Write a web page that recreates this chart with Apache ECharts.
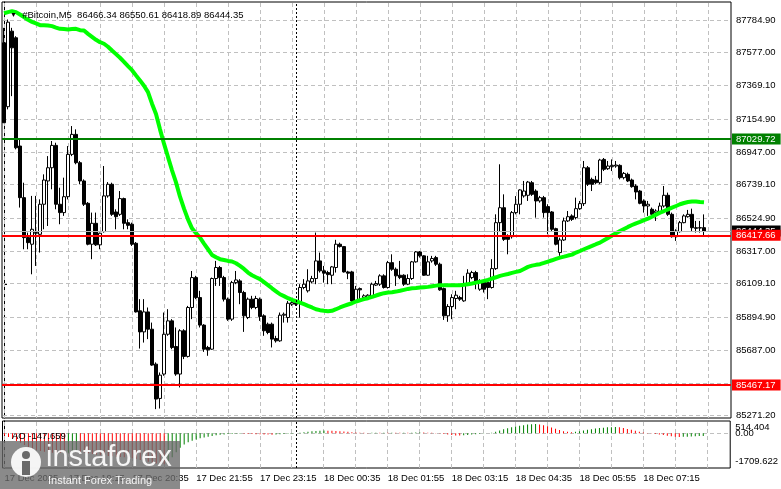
<!DOCTYPE html>
<html><head><meta charset="utf-8">
<script src="https://cdn.jsdelivr.net/npm/echarts@6/dist/echarts.min.js"></script>
<style>html,body{margin:0;padding:0;background:#fff}#c{width:781px;height:489px}</style>
</head><body><div id="c"></div>
<script>
// ---------------- data ----------------
const symbolName = '#Bitcoin,M5';
const xTickBars = [0, 16, 32, 48, 64, 80, 96, 112, 128, 144, 160];
const xTickText = ['17 Dec 2025', '17 Dec 19:15', '17 Dec 20:35', '17 Dec 21:55', '17 Dec 23:15',
  '18 Dec 00:35', '18 Dec 01:55', '18 Dec 03:15', '18 Dec 04:35', '18 Dec 05:55', '18 Dec 07:15'];
const xGridBars = [0,8,16,24,32,40,48,56,64,72,80,88,96,104,112,120,128,136,144,152,160,168,176];
const daySeparatorBar = 73;
const yTicks = [87784.90, 87577.00, 87369.10, 87154.90, 86947.00, 86739.10, 86524.90, 86317.00,
  86109.10, 85894.90, 85687.00, 85479.10, 85271.20];
const aoTicksOuter = [514.404, -1709.622];
const aoTicksOuterText = ['514.404', '-1709.622'];
const aoTickZero = [0];
const aoTickZeroText = ['0.00'];
const levelGreen = 87029.72;
const levelRedHigh = 86417.66;
const levelRedLow = 85467.17;

const barOpen = [
 87641,87235,87715,87673,86985,86657,86403,86361,86435,86424,
 86615,86763,86847,86989,86615,86562,86663,86932,87059,86879,
 86763,86621,86361,86494,86357,86441,86668,86742,86566,86551,
 86651,86498,86488,86367,85938,85804,85931,85821,85599,85381,
 85536,85789,85874,85711,85536,85811,85648,85959,86149,86022,
 85847,85705,85694,86143,86213,86149,86012,85885,86117,86128,
 86054,85895,86012,85959,86012,85906,85853,85853,85762,85747,
 85910,85895,85980,85990,85986,86086,86065,86122,86143,86255,
 86192,86181,86164,86213,86361,86346,86185,86185,86001,86079,
 86022,86022,86022,86101,86107,86160,86086,86244,86202,86164,
 86164,86107,86143,86249,86312,86287,86164,86255,86276,86234,
 86079,85906,85965,86016,86022,86001,86107,86149,86181,86075,
 86122,86117,86086,86206,86498,86593,86409,86409,86562,86615,
 86668,86672,86752,86699,86636,86657,86600,86566,86460,86308,
 86388,86509,86541,86530,86587,86619,86847,86773,86769,86752,
 86900,86841,86854,86858,86862,86784,86805,86769,86731,86699,
 86636,86604,86583,86562,86562,86604,86672,86551,86409,86441,
 86498,86536,86551,86466,86466,86466.34];
const barHigh = [
 87736,87789,87736,87683,87027,86752,86435,86668,86668,86646,
 86805,86921,87017,87006,86720,86784,86985,87112,87091,86890,
 86773,86629,86562,86562,86435,86858,86756,86752,86583,86699,
 86657,86519,86498,86375,86012,86012,85959,85863,85610,85546,
 85927,85948,85885,85832,85821,85821,85969,86191,86160,86065,
 85853,85715,86149,86255,86223,86160,86022,86128,86191,86139,
 86065,86022,86033,86033,86022,85916,85863,85863,85779,85927,
 85927,86001,86001,86001,86107,86139,86202,86160,86435,86308,
 86223,86192,86223,86389,86371,86350,86192,86192,86096,86086,
 86043,86043,86117,86128,86170,86170,86255,86297,86213,86255,
 86170,86170,86255,86318,86318,86291,86287,86287,86287,86244,
 86086,85980,86043,86065,86033,86160,86202,86192,86192,86139,
 86128,86122,86266,86551,86869,86678,86424,86572,86667,86710,
 86763,86763,86763,86710,86668,86668,86615,86572,86466,86403,
 86530,86572,86551,86657,86636,86890,86858,86784,86795,86904,
 86909,86890,86900,86890,86869,86820,86816,86778,86742,86706,
 86646,86636,86594,86583,86625,86731,86689,86562,86456,86509,
 86551,86579,86587,86509,86509,86550.61];
const barLow = [
 87133,87218,87302,86964,86594,86329,86329,86170,86223,86308,
 86456,86477,86710,86583,86488,86541,86646,86921,86869,86742,
 86604,86354,86266,86350,86329,86435,86657,86541,86456,86541,
 86456,86456,86350,85927,85698,85736,85758,85588,85313,85317,
 85525,85779,85694,85525,85451,85631,85641,85885,86012,85832,
 85677,85652,85690,86096,86096,85997,85874,85874,86107,85980,
 85804,85885,85948,85948,85874,85779,85789,85705,85736,85741,
 85863,85863,85969,85969,85895,86075,86054,86113,86107,86181,
 86117,86107,86107,86181,86340,86181,86139,85995,85995,86012,
 86012,86012,86016,86096,86096,86079,86079,86192,86096,86139,
 86096,86101,86134,86244,86276,86160,86160,86244,86223,86065,
 85880,85868,85885,85948,86001,85995,86096,86139,86075,86065,
 86054,86012,86079,86198,86445,86382,86297,86397,86551,86551,
 86657,86636,86668,86530,86625,86530,86424,86445,86354,86287,
 86382,86502,86509,86519,86579,86604,86731,86699,86742,86742,
 86826,86833,86826,86847,86773,86773,86756,86720,86646,86615,
 86562,86541,86541,86509,86551,86594,86541,86403,86382,86435,
 86494,86530,86439,86435,86435,86418.89];
const barClose = [
 87133,87772,87609,86974,86657,86403,86371,86456,86431,86615,
 86769,86847,86989,86615,86562,86663,86932,87059,86879,86763,
 86615,86361,86494,86357,86431,86668,86742,86551,86536,86651,
 86494,86481,86361,85931,85804,85931,85821,85593,85377,85529,
 85789,85874,85705,85536,85811,85648,85959,86149,86022,85847,
 85694,85690,86143,86213,86149,86012,85885,86117,86134,86054,
 85906,86012,85959,86016,85902,85811,85800,85758,85747,85910,
 85916,85986,85990,85980,86086,86107,86128,86143,86255,86192,
 86177,86168,86217,86361,86346,86185,86177,86001,86075,86071,
 86033,86037,86107,86111,86160,86086,86244,86202,86160,86149,
 86107,86143,86249,86312,86287,86164,86249,86270,86234,86071,
 85906,85965,86022,86037,86012,86107,86177,86181,86117,86128,
 86075,86086,86206,86498,86593,86392,86392,86562,86615,86706,
 86699,86756,86678,86636,86657,86562,86562,86456,86361,86388,
 86509,86536,86519,86587,86619,86847,86742,86742,86752,86896,
 86837,86858,86862,86864,86784,86811,86763,86727,86693,86621,
 86604,86615,86551,86572,86604,86672,86551,86409,86445,86498,
 86541,86551,86466,86462,86464,86444.35];
const maValues = [
 87829,87836,87842,87836,87821,87804,87787,87774,87764,87753,
 87753,87751,87747,87738,87730,87728,87726,87728,87730,87721,
 87719,87698,87679,87660,87645,87635,87616,87592,87569,87546,
 87520,87493,87467,87434,87402,87368,87328,87254,87188,87091,
 87000,86915,86831,86754,86663,86587,86519,86462,86431,86403,
 86365,86329,86293,86278,86266,86261,86255,86251,86240,86223,
 86204,86181,86164,86151,86139,86120,86101,86081,86062,86043,
 86031,86018,86007,85999,85990,85980,85969,85959,85948,85942,
 85938,85935,85938,85948,85959,85969,85978,85986,85997,86005,
 86012,86018,86026,86035,86043,86050,86054,86056,86060,86065,
 86071,86077,86081,86083,86086,86088,86090,86094,86098,86101,
 86101,86101,86101,86101,86101,86103,86107,86111,86117,86122,
 86128,86134,86143,86151,86160,86166,86172,86179,86185,86191,
 86204,86217,86225,86230,86234,86242,86251,86259,86268,86276,
 86282,86289,86295,86308,86318,86329,86340,86350,86361,86371,
 86386,86401,86416,86431,86445,86458,86471,86483,86494,86503,
 86514,86524,86536,86549,86562,86572,86583,86594,86604,86615,
 86623,86629,86632,86632,86629,86627];
const aoValues = [
 -120,-200,-300,-420,-520,-650,-760,-850,-920,-980,
 -1020,-1050,-1070,-1085,-1095,-1100,-1080,-1040,-1010,-1030,
 -1060,-1100,-1140,-1180,-1210,-1230,-1250,-1270,-1290,-1310,
 -1330,-1350,-1380,-1420,-1470,-1520,-1570,-1620,-1670,-1695,
 -1709.622,-1550,-1330,-1050,-800,-620,-500,-410,-340,-280,
 -230,-185,-145,-110,-80,-60,-45,-35,-25,-20,
 -30,-40,-45,-50,-55,-60,-70,-75,-70,-55,
 -40,-30,-20,0,30,60,90,110,130,140,
 150,145,135,125,115,100,80,60,40,30,
 25,20,25,30,28,35,30,35,30,25,
 30,25,30,40,45,40,35,30,20,-10,
 -40,-70,-100,-120,-125,-110,-90,-70,-50,-30,
 -10,0,30,80,150,220,280,330,380,420,
 450,480,500,514.404,490,450,390,320,250,180,
 120,80,60,80,110,150,190,230,260,290,
 310,330,340,345,330,290,240,190,140,90,
 50,20,-10,-40,-70,-100,-130,-160,-185,-200,
 -195,-185,-175,-165,-155,-147.659];

// ---------------- layout / style ----------------
const FONT = '"Liberation Sans", Arial, sans-serif';
const FS = 9.5;
const PRICE_MIN = 85256.7, PRICE_MAX = 87900.3;
const AO_MIN = -1919, AO_MAX = 680;
const X_MIN = -0.5, X_MAX = 181.75;
const GRID_FILL = '#c0c0c0';
const DASH_ON = 4, DASH_OFF = 3;

const last = barClose.length - 1;
const candleData = barOpen.map((o, i) => [i, o, barClose[i], barLow[i], barHigh[i]]);
const maData = maValues.map((v, i) => [i, v]);
const aoData = aoValues.map((v, i) => [i, v]);
const noLabel = { show: false };

const priceLabel = (bg) => ({
  show: true, position: 'end', distance: 1, formatter: p => p.value.toFixed(2),
  color: '#fff', backgroundColor: bg, fontSize: FS, fontFamily: FONT,
  padding: [1, 5, 0, 4], lineHeight: 10
});
const aoLabelBase = () => ({ margin: 5, fontSize: FS, color: '#000', fontFamily: FONT, hideOverlap: false });

const logoElements = [
  { type: 'rect', z: 100, shape: { x: 0, y: 441, width: 180, height: 48 },
    style: { fill: 'rgba(105,105,105,0.78)' } },
  { type: 'circle', z: 101, shape: { cx: 26, cy: 462, r: 15 }, style: { fill: 'rgba(255,255,255,0.92)' } },
  { type: 'circle', z: 102, shape: { cx: 26, cy: 455, r: 4 }, style: { fill: 'rgba(105,105,105,1)' } },
  { type: 'rect', z: 102, shape: { x: 22, y: 461, width: 8, height: 14 }, style: { fill: 'rgba(105,105,105,1)' } },
  { type: 'text', z: 101, style: { text: 'instaforex', x: 46, y: 458, fontSize: 29, fontFamily: FONT,
    fill: 'rgba(255,255,255,0.92)', verticalAlign: 'middle', align: 'left' } },
  { type: 'text', z: 101, style: { text: 'Instant Forex Trading', x: 48, y: 481, fontSize: 11, fontFamily: FONT,
    fill: 'rgba(255,255,255,0.92)', verticalAlign: 'middle', align: 'left' } }
];

const option = {
  animation: false,
  textStyle: { fontFamily: FONT },
  title: [
    {
      left: 5, top: 5,
      text: '{t|▼}  ' + symbolName + '  ' +
        [barOpen[last], barHigh[last], barLow[last], barClose[last]].map(v => v.toFixed(2)).join(' '),
      textStyle: { fontSize: FS, fontWeight: 'normal', color: '#000', fontFamily: FONT,
        rich: { t: { fontSize: 7, color: '#000' } } }
    },
    {
      left: 7, top: 426,
      text: 'AO ' + aoValues[last].toFixed(3),
      textStyle: { fontSize: FS, fontWeight: 'normal', color: '#000', fontFamily: FONT }
    }
  ],
  grid: [
    { left: 2, top: 2, width: 729, height: 416, show: true, borderColor: '#000', borderWidth: 1 },
    { left: 2.5, top: 421, width: 729, height: 47, show: true, borderColor: '#000', borderWidth: 1 }
  ],
  xAxis: [
    { type: 'value', gridIndex: 0, min: X_MIN, max: X_MAX,
      axisLine: { show: false }, axisTick: { show: false }, axisLabel: { show: false }, splitLine: { show: false } },
    { type: 'value', gridIndex: 1, min: X_MIN, max: X_MAX,
      axisLine: { show: false }, axisTick: { show: false },
      axisLabel: { show: true, customValues: xTickBars, align: 'left', margin: 5,
        hideOverlap: false, fontSize: FS, color: '#000', fontFamily: FONT,
        formatter: v => xTickText[xTickBars.indexOf(Math.round(v))] },
      splitLine: { show: false } }
  ],
  yAxis: [
    { type: 'value', gridIndex: 0, position: 'right', min: PRICE_MIN, max: PRICE_MAX,
      axisLine: { show: true, lineStyle: { color: '#000' } },
      axisTick: { show: true, customValues: yTicks, length: 3, lineStyle: { color: '#000' } },
      axisLabel: { customValues: yTicks, formatter: v => v.toFixed(2), margin: 5,
        hideOverlap: false, fontSize: FS, color: '#000', fontFamily: FONT },
      splitLine: { show: false } },
    { type: 'value', gridIndex: 1, position: 'right', min: AO_MIN, max: AO_MAX,
      axisLine: { show: true, lineStyle: { color: '#000' } },
      axisTick: { show: false },
      axisLabel: Object.assign(aoLabelBase(), { customValues: aoTicksOuter,
        formatter: v => {
          const k = aoTicksOuter.indexOf(v);
          return k === 0 ? '{d|' + aoTicksOuterText[k] + '}' : '{u|' + aoTicksOuterText[k] + '}';
        },
        rich: { d: { padding: [7, 0, 0, 0], fontSize: FS, fontFamily: FONT, color: '#000' },
                u: { padding: [0, 0, 5, 0], fontSize: FS, fontFamily: FONT, color: '#000' } } }),
      splitLine: { show: false } },
    { type: 'value', gridIndex: 1, position: 'right', min: AO_MIN, max: AO_MAX,
      axisLine: { show: false }, axisTick: { show: false },
      axisLabel: Object.assign(aoLabelBase(), { customValues: aoTickZero,
        formatter: v => aoTickZeroText[aoTickZero.indexOf(v)] }),
      splitLine: { show: false } }
  ],
  series: [
    { type: 'candlestick', xAxisIndex: 0, yAxisIndex: 0, data: candleData, barWidth: 3, z: 2,
      itemStyle: { color: '#ffffff', color0: '#000000', borderColor: '#000000', borderColor0: '#000000', borderWidth: 1 } },
    { type: 'line', xAxisIndex: 0, yAxisIndex: 0, data: maData, showSymbol: false, z: 4, clip: false,
      lineStyle: { color: '#00ff00', width: 4 },
      markLine: {
        symbol: ['none', 'none'], silent: true, z: 5,
        data: [
          { xAxis: daySeparatorBar, lineStyle: { color: '#000', type: [2, 2], width: 1 }, label: noLabel },
          { yAxis: barClose[last], lineStyle: { color: '#b8b8b8', type: 'solid', width: 1 }, label: priceLabel('#000') },
          { yAxis: levelGreen, lineStyle: { color: '#008000', type: 'solid', width: 2 }, label: priceLabel('#008000') },
          { yAxis: levelRedHigh, lineStyle: { color: '#ff0000', type: 'solid', width: 2 }, label: priceLabel('#ff0000') },
          { yAxis: levelRedLow, lineStyle: { color: '#ff0000', type: 'solid', width: 2 }, label: priceLabel('#ff0000') }
        ]
      } },
    { type: 'bar', xAxisIndex: 1, yAxisIndex: 1, data: aoData, barWidth: 1, z: 2,
      itemStyle: { color: p => (p.dataIndex > 0 && aoValues[p.dataIndex] > aoValues[p.dataIndex - 1]) ? '#008000' : '#ff0000' },
      markLine: {
        symbol: ['none', 'none'], silent: true, z: 5,
        data: [{ xAxis: daySeparatorBar, lineStyle: { color: '#000', type: [2, 2], width: 1 }, label: noLabel }]
      } }
  ],
  graphic: { elements: logoElements }
};

const chart = echarts.init(document.getElementById('c'));
chart.setOption(option);

// ---- dashed chart grid: positions taken from the axes' own scales, drawn as 1px filled dashes ----
const gridDashes = [];
function hDashes(y, x0, x1) {
  for (let x = x0; x < x1; x += DASH_ON + DASH_OFF) {
    gridDashes.push({ type: 'rect', z: 1, silent: true,
      shape: { x: x, y: y, width: Math.min(DASH_ON, x1 - x), height: 1 }, style: { fill: GRID_FILL } });
  }
}
function vDashes(x, y0, y1) {
  for (let y = y0; y < y1; y += DASH_ON + DASH_OFF) {
    gridDashes.push({ type: 'rect', z: 1, silent: true,
      shape: { x: x, y: y, width: 1, height: Math.min(DASH_ON, y1 - y) }, style: { fill: GRID_FILL } });
  }
}
const mainFinder = { xAxisIndex: 0, yAxisIndex: 0 };
const aoFinder = { xAxisIndex: 1, yAxisIndex: 1 };
const mTL = chart.convertToPixel(mainFinder, [X_MIN, PRICE_MAX]);
const mBR = chart.convertToPixel(mainFinder, [X_MAX, PRICE_MIN]);
const aTL = chart.convertToPixel(aoFinder, [X_MIN, AO_MAX]);
const aBR = chart.convertToPixel(aoFinder, [X_MAX, AO_MIN]);
const mx0 = Math.ceil(mTL[0]) + 1, mx1 = Math.floor(mBR[0]);
const my0 = Math.ceil(mTL[1]) + 1, my1 = Math.floor(mBR[1]);
const ay0 = Math.ceil(aTL[1]) + 1, ay1 = Math.floor(aBR[1]);

yTicks.forEach(v => {
  const p = chart.convertToPixel(mainFinder, [0, v]);
  hDashes(Math.round(p[1] - 0.5), mx0, mx1);
});
xGridBars.forEach(b => {
  const p = chart.convertToPixel(mainFinder, [b, PRICE_MIN]);
  vDashes(Math.round(p[0] - 0.5), my0, my1);
  const q = chart.convertToPixel(aoFinder, [b, 0]);
  vDashes(Math.round(q[0] - 0.5), ay0, ay1);
});
aoTickZero.forEach(v => {
  const p = chart.convertToPixel(aoFinder, [0, v]);
  hDashes(Math.round(p[1] - 0.5), mx0, mx1);
});
// current bid line (solid, light grey)
{
  const p = chart.convertToPixel(mainFinder, [0, barClose[last]]);
  gridDashes.push({ type: 'rect', z: 3, silent: true,
    shape: { x: mx0, y: Math.round(p[1] - 0.5), width: mx1 - mx0, height: 1 }, style: { fill: '#b8b8b8' } });
}

chart.setOption({ graphic: { elements: logoElements.concat(gridDashes) } });
</script>
</body></html>
